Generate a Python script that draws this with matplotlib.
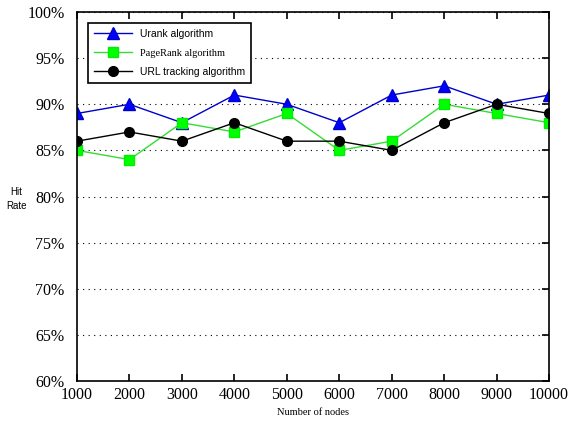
import numpy as np
import matplotlib
matplotlib.use('Agg')
import matplotlib.pyplot as plt
from matplotlib.ticker import FuncFormatter

# data
nodes = [1000, 2000, 3000, 4000, 5000, 6000, 7000, 8000, 9000, 10000]
urank = [89, 90, 88, 91, 90, 88, 91, 92, 90, 91]
pagerank = [85, 84, 88, 87, 89, 85, 86, 90, 89, 88]
url_tracking = [86, 87, 86, 88, 86, 86, 85, 88, 90, 89]
y_ticks = [60, 65, 70, 75, 80, 85, 90, 95, 100]

serif = 'Liberation Serif'
sans = 'Liberation Sans'

fig = plt.figure(figsize=(5.72, 4.30), dpi=100)
ax = fig.add_axes([0.1346, 0.114, 0.8254, 0.858])

ax.plot(nodes, urank, color='#0000cc', lw=1, marker='^', ms=8,
        mfc='#0000ff', mec='#0000cc', label='Urank algorithm')
ax.plot(nodes, pagerank, color='#33dd33', lw=1, marker='s', ms=7,
        mfc='#00ff00', mec='#00ee00', label='PageRank algorithm')
ax.plot(nodes, url_tracking, color='black', lw=1, marker='o', ms=7,
        mfc='black', mec='black', label='URL tracking algorithm')

ax.set_xlim(1000, 10000)
ax.set_ylim(60, 100)
ax.set_xticks(nodes)
ax.set_yticks(y_ticks)
ax.yaxis.set_major_formatter(FuncFormatter(lambda v, p: '%d%%' % v))
for lab in ax.get_xticklabels() + ax.get_yticklabels():
    lab.set_fontfamily(serif)
    lab.set_fontsize(11.5)
ax.tick_params(axis='x', direction='in', top=True, length=5, width=1.2, pad=4)
ax.tick_params(axis='y', direction='in', left=False, right=True, length=5, width=1.2, pad=9)
ax.grid(axis='y', linestyle=(0, (1, 4)), color='black', lw=0.8)
for s in ax.spines.values():
    s.set_linewidth(1.2)

ax.set_xlabel('Number of nodes', fontfamily=serif, fontsize=7.5, labelpad=4)
fig.text(0.028, 0.537, 'Hit\nRate', fontfamily=sans, fontsize=7, ha='center', va='center',
         linespacing=1.5)

leg = ax.legend(loc='upper left', bbox_to_anchor=(0.012, 0.985), fancybox=False,
                framealpha=1, edgecolor='black', fontsize=7.5, handlelength=3.6,
                borderpad=0.6, labelspacing=0.9)
leg.get_frame().set_linewidth(1.2)
for t in leg.get_texts():
    t.set_fontfamily(sans)
leg.get_texts()[1].set_fontfamily(serif)

fig.savefig('out.png', dpi=100)
